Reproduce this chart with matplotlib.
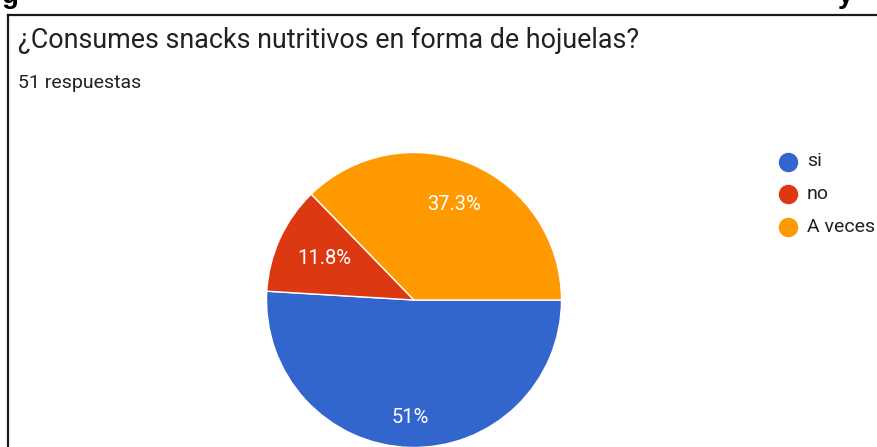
import numpy as np
import matplotlib
matplotlib.use("Agg")
from matplotlib import pyplot as plt
from matplotlib.lines import Line2D

labels = ["si", "no", "A veces"]
values = [51.0, 11.8, 37.3]
colors = ["#3366CC", "#DC3912", "#FF9900"]
pct_text = ["51%", "11.8%", "37.3%"]
label_dist = [0.80, 0.67, 0.70]

W, H = 878, 447
fig = plt.figure(figsize=(W / 100, H / 100), dpi=100)
fig.patch.set_facecolor("white")

# cut-off caption fragments at the very top
fig.text(2 / W, 1 - 3 / H, "g", fontsize=20, fontweight="bold",
         family="Liberation Sans", color="black", va="baseline")
fig.text(838 / W, 1 - 3 / H, "y", fontsize=20, fontweight="bold",
         family="Liberation Sans", color="black", va="baseline")

# frame of the screenshot
fig.add_artist(Line2D([8 / W, 1], [1 - 15 / H, 1 - 15 / H], color="#1a1a1a",
                      lw=1.6, transform=fig.transFigure))
fig.add_artist(Line2D([8 / W, 8 / W], [0, 1 - 15 / H], color="#1a1a1a",
                      lw=1.6, transform=fig.transFigure))

fig.text(18 / W, 1 - 40 / H, "¿Consumes snacks nutritivos en forma de hojuelas?",
         fontsize=19.4, family="Roboto", color="#202124", va="center")
fig.text(18 / W, 1 - 83 / H, "51 respuestas", fontsize=14, family="Roboto",
         color="#202124", va="center")

cx, cy, r = 414, 300, 147.5
ax = fig.add_axes([(cx - r) / W, (H - cy - r) / H, 2 * r / W, 2 * r / H])
wedges, _ = ax.pie(values, colors=colors, startangle=0, counterclock=False,
                   wedgeprops=dict(edgecolor="white", linewidth=1))
ax.set_xlim(-1, 1)
ax.set_ylim(-1, 1)
ax.set_aspect("equal")
ax.axis("off")

for w, txt, d in zip(wedges, pct_text, label_dist):
    ang = np.deg2rad((w.theta1 + w.theta2) / 2)
    ax.text(d * np.cos(ang), d * np.sin(ang), txt, ha="center", va="center",
            color="white", fontsize=14.5, family="Roboto")

# legend
for i, (lab, col) in enumerate(zip(labels, colors)):
    y = 1 - (161.5 + i * 32.5) / H
    fig.add_artist(Line2D([788 / W], [y], marker="o", markersize=13,
                          color=col, transform=fig.transFigure))
    fig.text(807 / W, y, lab, fontsize=14, family="Roboto", color="#202124",
             va="center")

fig.savefig("out.png", dpi=100)
